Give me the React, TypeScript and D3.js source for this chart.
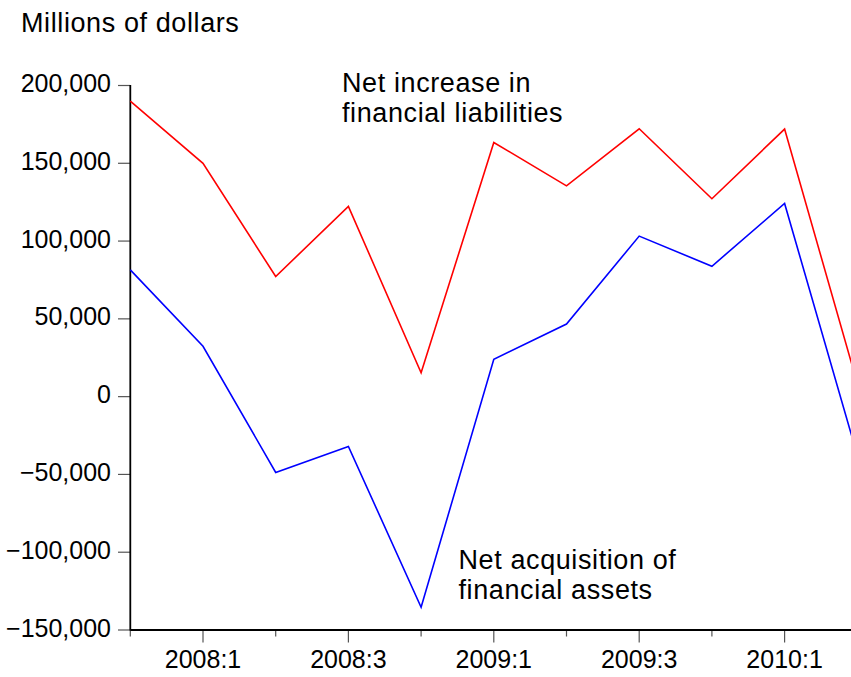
import React from "react";
import * as d3 from "d3";

const quarters = ["2007:4", "2008:1", "2008:2", "2008:3", "2008:4", "2009:1", "2009:2", "2009:3", "2009:4", "2010:1", "2010:2"];
const liabilities = [190000, 150000, 77200, 122300, 15300, 163400, 135500, 172200, 127200, 172000, 8500];
const assets = [81500, 32400, -48700, -32000, -135400, 24000, 46700, 103200, 83800, 124200, -37600];
const yTicks = [200000, 150000, 100000, 50000, 0, -50000, -100000, -150000];
const labeledQuarters = ["2008:1", "2008:3", "2009:1", "2009:3", "2010:1"];

const W = 851;
const H = 677;
const FONT = "'Liberation Sans', Arial, sans-serif";

export default function App() {
  const x = d3.scalePoint<string>().domain(quarters).range([130.3, 857.3]);
  const y = d3.scaleLinear().domain([-150000, 200000]).range([630, 85.5]);
  const fmt = d3.format(",");
  const line = d3
    .line<number>()
    .x((_, i) => x(quarters[i]) as number)
    .y((d) => y(d));
  const x0 = 130.3;
  const yBottom = y(-150000);

  return (
    <svg
      width={W}
      height={H}
      style={{ position: "absolute", left: 0, top: 0, background: "#fff" }}
      fontFamily={FONT}
    >
      <rect x={0} y={0} width={W} height={H} fill="#fff" />
      <text x={21} y={32.3} fontSize={27} letterSpacing={0.6} fill="#000">
        Millions of dollars
      </text>
      {/* y ticks */}
      {yTicks.map((t) => (
        <g key={t}>
          <line x1={118} x2={x0} y1={y(t)} y2={y(t)} stroke="#555" strokeWidth={1.2} />
          <text x={111} y={y(t) + 6.5} fontSize={25} textAnchor="end" fill="#000">
            {fmt(t)}
          </text>
        </g>
      ))}
      {/* x ticks */}
      {quarters.map((q) => {
        const major = labeledQuarters.includes(q);
        const xx = x(q) as number;
        return (
          <g key={q}>
            <line x1={xx} x2={xx} y1={yBottom} y2={yBottom + (major ? 12.5 : 6.5)} stroke="#555" strokeWidth={1.2} />
            {major && (
              <text x={xx} y={668} fontSize={25} textAnchor="middle" fill="#000">
                {q}
              </text>
            )}
          </g>
        );
      })}
      {/* axes */}
      <line x1={x0} x2={x0} y1={y(200000) - 0.5} y2={yBottom + 0.5} stroke="#000" strokeWidth={1.8} />
      <line x1={x0} x2={W} y1={yBottom} y2={yBottom} stroke="#000" strokeWidth={2} />
      {/* series */}
      <path d={line(liabilities) || ""} fill="none" stroke="#ff0000" strokeWidth={1.6} />
      <path d={line(assets) || ""} fill="none" stroke="#0000ff" strokeWidth={1.6} />
      {/* annotations */}
      <text fontSize={27} letterSpacing={0.6} fill="#000">
        <tspan x={342} y={91.7}>Net increase in</tspan>
        <tspan x={342} y={121.7}>financial liabilities</tspan>
      </text>
      <text fontSize={27} letterSpacing={0.6} fill="#000">
        <tspan x={458.5} y={569}>Net acquisition of</tspan>
        <tspan x={458.5} y={599}>financial assets</tspan>
      </text>
    </svg>
  );
}
